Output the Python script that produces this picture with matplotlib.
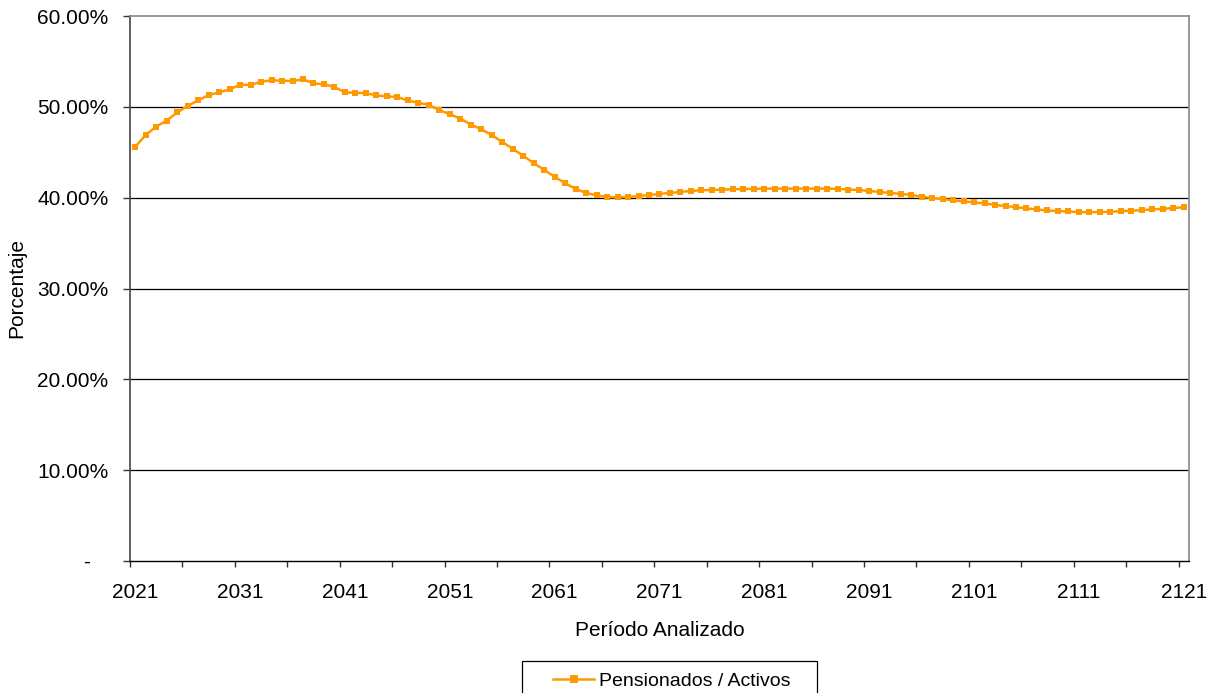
import matplotlib
matplotlib.use("Agg")
import matplotlib.pyplot as plt
from matplotlib.ticker import FixedLocator, FixedFormatter
from matplotlib.legend_handler import HandlerLine2D
from matplotlib.patches import Rectangle

years = list(range(2021, 2122))
ratio = [
    45.61, 46.90, 47.83, 48.49, 49.38, 50.11, 50.70, 51.30, 51.59, 51.92,
    52.44, 52.40, 52.77, 52.92, 52.88, 52.84, 53.03, 52.59, 52.48, 52.18,
    51.59, 51.55, 51.51, 51.26, 51.15, 51.08, 50.70, 50.44, 50.22, 49.63,
    49.19, 48.71, 48.05, 47.53, 46.90, 46.13, 45.39, 44.61, 43.80, 43.06,
    42.29, 41.59, 40.96, 40.52, 40.26, 40.07, 40.04, 40.07, 40.18, 40.30,
    40.41, 40.52, 40.63, 40.74, 40.81, 40.85, 40.89, 40.92, 40.96, 40.96,
    41.00, 41.00, 41.00, 41.00, 41.00, 41.00, 41.00, 40.96, 40.89, 40.85,
    40.74, 40.63, 40.52, 40.41, 40.30, 40.11, 39.96, 39.85, 39.70, 39.59,
    39.48, 39.37, 39.19, 39.08, 38.96, 38.82, 38.70, 38.59, 38.52, 38.48,
    38.41, 38.41, 38.41, 38.45, 38.52, 38.56, 38.63, 38.70, 38.78, 38.85,
    38.96,
]
y_ticks = [0, 10, 20, 30, 40, 50, 60]
y_labels = ["-   ", "10.00%", "20.00%", "30.00%", "40.00%", "50.00%", "60.00%"]
x_label_years = list(range(2021, 2122, 10))
series_name = "Pensionados / Activos"

plt.rcParams["font.family"] = ["Liberation Sans", "DejaVu Sans"]

W, H = 1217, 693
fig = plt.figure(figsize=(W / 100, H / 100), dpi=100)
ax = fig.add_axes([130 / W, 1 - 561 / H, (1189 - 130) / W, (561 - 16) / H])

ax.plot(years, ratio, color="#FF9900", linewidth=1.8, marker="s",
        markersize=5, markeredgewidth=0, label=series_name, zorder=3)

ax.set_xlim(years[0] - 0.5, years[-1] + 0.5)
ax.set_ylim(0, 60)

# y axis
ax.set_yticks(y_ticks)
ax.set_yticklabels(y_labels)
for yv in y_ticks[1:-1]:
    ax.axhline(yv, color="black", linewidth=0.9, zorder=1)

# x axis: tick marks between categories, labels centred on categories
bounds = [y - 0.5 for y in range(years[0], years[-1] + 2, 5)]
ax.xaxis.set_major_locator(FixedLocator(bounds))
ax.xaxis.set_major_formatter(FixedFormatter([""] * len(bounds)))
ax.xaxis.set_minor_locator(FixedLocator(x_label_years))
ax.xaxis.set_minor_formatter(FixedFormatter([str(v) for v in x_label_years]))
ax.tick_params(axis="x", which="major", direction="out", length=4, width=1, color="#333333")
ax.tick_params(axis="x", which="minor", length=0, pad=15.5, labelsize=15)
ax.tick_params(axis="y", direction="out", length=5, width=1, pad=10.5, labelsize=15, color="#333333")

for s in ["top", "right"]:
    ax.spines[s].set_color("#888888")
    ax.spines[s].set_linewidth(1.2)
ax.spines["left"].set_color("#444444")
ax.spines["left"].set_linewidth(1.2)
ax.spines["bottom"].set_color("black")
ax.spines["bottom"].set_linewidth(1.0)

ax.set_xlabel("Período Analizado", fontsize=15, labelpad=14)
ax.set_ylabel("Porcentaje", fontsize=15, labelpad=8)

# legend (frame drawn separately to get Excel-like asymmetric padding)
fs = 14
fs_px = fs * 100 / 72
handler = HandlerLine2D(xpad=16 / fs_px)
leg = fig.legend(loc="center left", bbox_to_anchor=(537 / W, 1 - 681 / H),
                 frameon=False, fontsize=fs, handlelength=57 / fs_px,
                 handletextpad=5 / fs_px, borderpad=0, borderaxespad=0,
                 handler_map={plt.Line2D: handler})
for h in leg.legend_handles:
    h.set_markersize(5.3)
fig.patches.append(Rectangle((522 / W, 1 - 705 / H), (817 - 522) / W, (705 - 661) / H,
                             transform=fig.transFigure, facecolor="none",
                             edgecolor="black", linewidth=0.9))

fig.savefig("out.png", dpi=100)
